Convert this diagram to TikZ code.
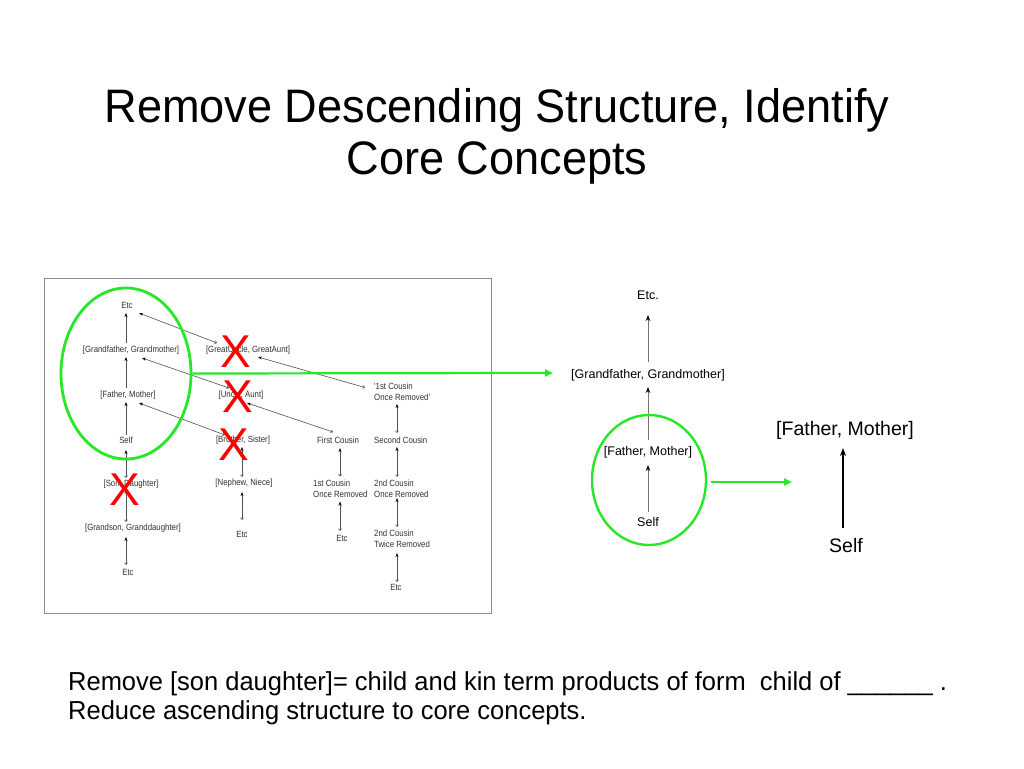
\documentclass[tikz,border=0pt]{standalone}
\usepackage{fontspec}
\setmainfont{Liberation Sans}
\newfontfamily\titlefont[FakeStretch=0.96]{Liberation Sans}
\newfontfamily\bodyfont[FakeStretch=0.98]{Liberation Sans}
\newfontfamily\smallfont[FakeStretch=0.87]{Liberation Sans}
\usetikzlibrary{arrows.meta,calc,shapes.geometric}
\definecolor{mygreen}{RGB}{40,230,40}
\definecolor{labgray}{RGB}{50,50,50}
\definecolor{lingray}{RGB}{80,80,80}
\begin{document}
\begin{tikzpicture}[x=1pt,y=-1pt,
  lab/.style={font=\smallfont\fontsize{9}{11}\selectfont, text=labgray, inner sep=0pt},
  labw/.style={lab, anchor=west, align=left},
  up/.style={draw=lingray, line width=0.6pt, -{Stealth[length=4pt,width=3pt,color=black]}},
  bi/.style={draw=lingray, line width=0.6pt, {Straight Barb[length=1.8pt,width=3pt]}-{Stealth[length=4pt,width=3pt,color=black]}},
  redx/.style={font=\fontsize{46}{46}\selectfont, text=red, inner sep=0pt},
  gell/.style={draw=mygreen, line width=2.8pt, ellipse, inner sep=0pt},
  garrow/.style={draw=mygreen, line width=2.2pt, -{Triangle[length=8pt,width=7pt]}},
  rlab/.style={font=\fontsize{12.5}{14}\selectfont, text=black, inner sep=0pt},
  blab/.style={font=\fontsize{19.5}{22}\selectfont, text=black, inner sep=0pt},
  rar/.style={draw=black!55, line width=1pt, -{Stealth[length=6pt,width=4.5pt,color=black]}},
  bar/.style={draw=black, line width=1.3pt, -{Stealth[length=8pt,width=6pt]}}
]
\useasboundingbox (0,0) rectangle (1024,768);
\fill[white] (0,0) rectangle (1024,768);

% title
\node[anchor=base, font=\titlefont\fontsize{47}{52}\selectfont, inner sep=0pt] (title1) at (497,122) {Remove Descending Structure, Identify};
\node[anchor=base, font=\titlefont\fontsize{47}{52}\selectfont, inner sep=0pt] (title2) at (497,174) {Core Concepts};

% frame of the left diagram
\draw[draw=black!45, line width=1pt] (44,278) rectangle (491,613);

% column guide coordinates
\coordinate (c1) at (126,0);
\coordinate (c2) at (242,0);
\coordinate (c3) at (340,0);
\coordinate (c4) at (397,0);

% column 1
\node[lab] (e1) at (127,305) {Etc};
\node[lab] (gf) at (131,350) {[Grandfather, Grandmother]};
\node[lab] (fm) at (128,395) {[Father, Mother]};
\node[lab] (self) at (126,440) {Self};
\node[lab] (son) at (131,484) {[Son, Daughter]};
\node[lab] (gs) at (133,528) {[Grandson, Granddaughter]};
\node[lab] (e1b) at (128,572) {Etc};

% column 2
\node[lab] (gu) at (248,350) {[GreatUncle, GreatAunt]};
\node[lab] (ua) at (241,395) {[Uncle, Aunt]};
\node[lab] (bs) at (243,440) {[Brother, Sister]};
\node[lab] (nn) at (244,483) {[Nephew, Niece]};
\node[lab] (e2) at (242,534) {Etc};

% column 3
\node[lab] (fc) at (338,440) {First Cousin};
\node[labw] (cor1) at (313,488.5) {1st Cousin\\Once Removed};
\node[lab] (e3) at (342,538) {Etc};

% column 4
\node[labw] (cq) at (374,391.5) {'1st Cousin\\Once Removed'};
\node[labw] (sc) at (374,440) {Second Cousin};
\node[labw] (cor2) at (374,488.5) {2nd Cousin\\Once Removed};
\node[labw] (ctr2) at (374,538.5) {2nd Cousin\\Twice Removed};
\node[lab] (e4) at (396,587) {Etc};

% vertical connectors, column 1
\draw[up] ($(gf -| c1)+(0,-7)$) -- ($(e1 -| c1)+(0,8)$);
\draw[up] ($(fm -| c1)+(0,-7)$) -- ($(gf -| c1)+(0,7)$);
\draw[up] ($(self -| c1)+(0,-5)$) -- ($(fm -| c1)+(0,7)$);
\draw[bi] ($(son -| c1)+(0,-6)$) -- ($(self -| c1)+(0,10)$);
\draw[bi] ($(gs -| c1)+(0,-6)$) -- ($(son -| c1)+(0,6)$);
\draw[bi] ($(e1b -| c1)+(0,-7)$) -- ($(gs -| c1)+(0,9)$);

% column 2
\draw[bi] ($(nn -| c2)+(0,-6)$) -- ($(bs -| c2)+(0,7)$);
\draw[bi] ($(e2 -| c2)+(0,-14)$) -- ($(nn -| c2)+(0,9)$);

% column 3
\draw[bi] ($(cor1 -| c3)+(0,-12)$) -- ($(fc -| c3)+(0,8)$);
\draw[bi] ($(e3 -| c3)+(0,-7)$) -- ($(cor1 -| c3)+(0,13)$);

% column 4
\draw[bi] ($(sc -| c4)+(0,-7)$) -- ($(cq -| c4)+(0,12.5)$);
\draw[bi] ($(cor2 -| c4)+(0,-11.5)$) -- ($(sc -| c4)+(0,7)$);
\draw[bi] ($(ctr2 -| c4)+(0,-11.5)$) -- ($(cor2 -| c4)+(0,9.5)$);
\draw[bi] ($(e4 -| c4)+(0,-5)$) -- ($(ctr2 -| c4)+(0,14.5)$);

% diagonal connectors
\draw[bi] ($(gu)+(-31,-7)$) -- ($(e1)+(12,8)$);
\draw[bi] ($(ua)+(-12,-7)$) -- ($(gf)+(11,8)$);
\draw[bi] ($(bs)+(-18,-5)$) -- ($(fm)+(11,8)$);
\draw[bi] ($(cq.west)+(-9,-4)$) -- ($(gu)+(10,7)$);
\draw[bi] ($(fc)+(-5,-8)$) -- ($(ua)+(6,8)$);

% left green ellipse and arrow
\node[gell, minimum width=130, minimum height=171] (el1) at (126,373.5) {};
\coordinate (gend1) at (553,373);
\draw[garrow] (el1.east) -- (gend1);

% red crosses
\node[redx] (x1) at (236,352) {X};
\node[redx] (x2) at (238,397) {X};
\node[redx] (x3) at (234,445) {X};
\node[redx] (x4) at (125,490) {X};

% right diagram
\node[rlab] (retc) at (648,295) {Etc.};
\node[rlab] (rgf) at (648,375) {[Grandfather, Grandmother]};
\node[rlab] (rfm) at (648,452) {[Father, Mother]};
\node[rlab] (rself) at (648,522) {Self};
\draw[rar] ($(rgf)+(0,-13)$) -- ($(retc)+(0,20)$);
\draw[rar] ($(rfm)+(0,-12)$) -- ($(rgf)+(0,12)$);
\draw[rar] ($(rself)+(0,-10)$) -- ($(rfm)+(0,13)$);
\node[gell, line width=2.4pt, minimum width=114, minimum height=130] (el2) at (649,480) {};
\coordinate (gend2) at (792,482);
\draw[garrow] ($(el2.east)+(4,2)$) -- (gend2);

% far right
\node[blab] (bfm) at (845,430) {[Father, Mother]};
\node[blab] (bself) at (846,546) {Self};
\draw[bar] ($(bself)+(-3,-18)$) -- ($(bfm)+(-2,18)$);

% bottom text
\node[anchor=base west, font=\bodyfont\fontsize{26}{29}\selectfont, inner sep=0pt] (t1) at (68,690) {Remove [son daughter]= child and kin term products of form\ \ child of \_\_\_\_\_\_ .};
\node[anchor=base west, font=\bodyfont\fontsize{26}{29}\selectfont, inner sep=0pt] (t2) at (68,719) {Reduce ascending structure to core concepts.};
\end{tikzpicture}
\end{document}
